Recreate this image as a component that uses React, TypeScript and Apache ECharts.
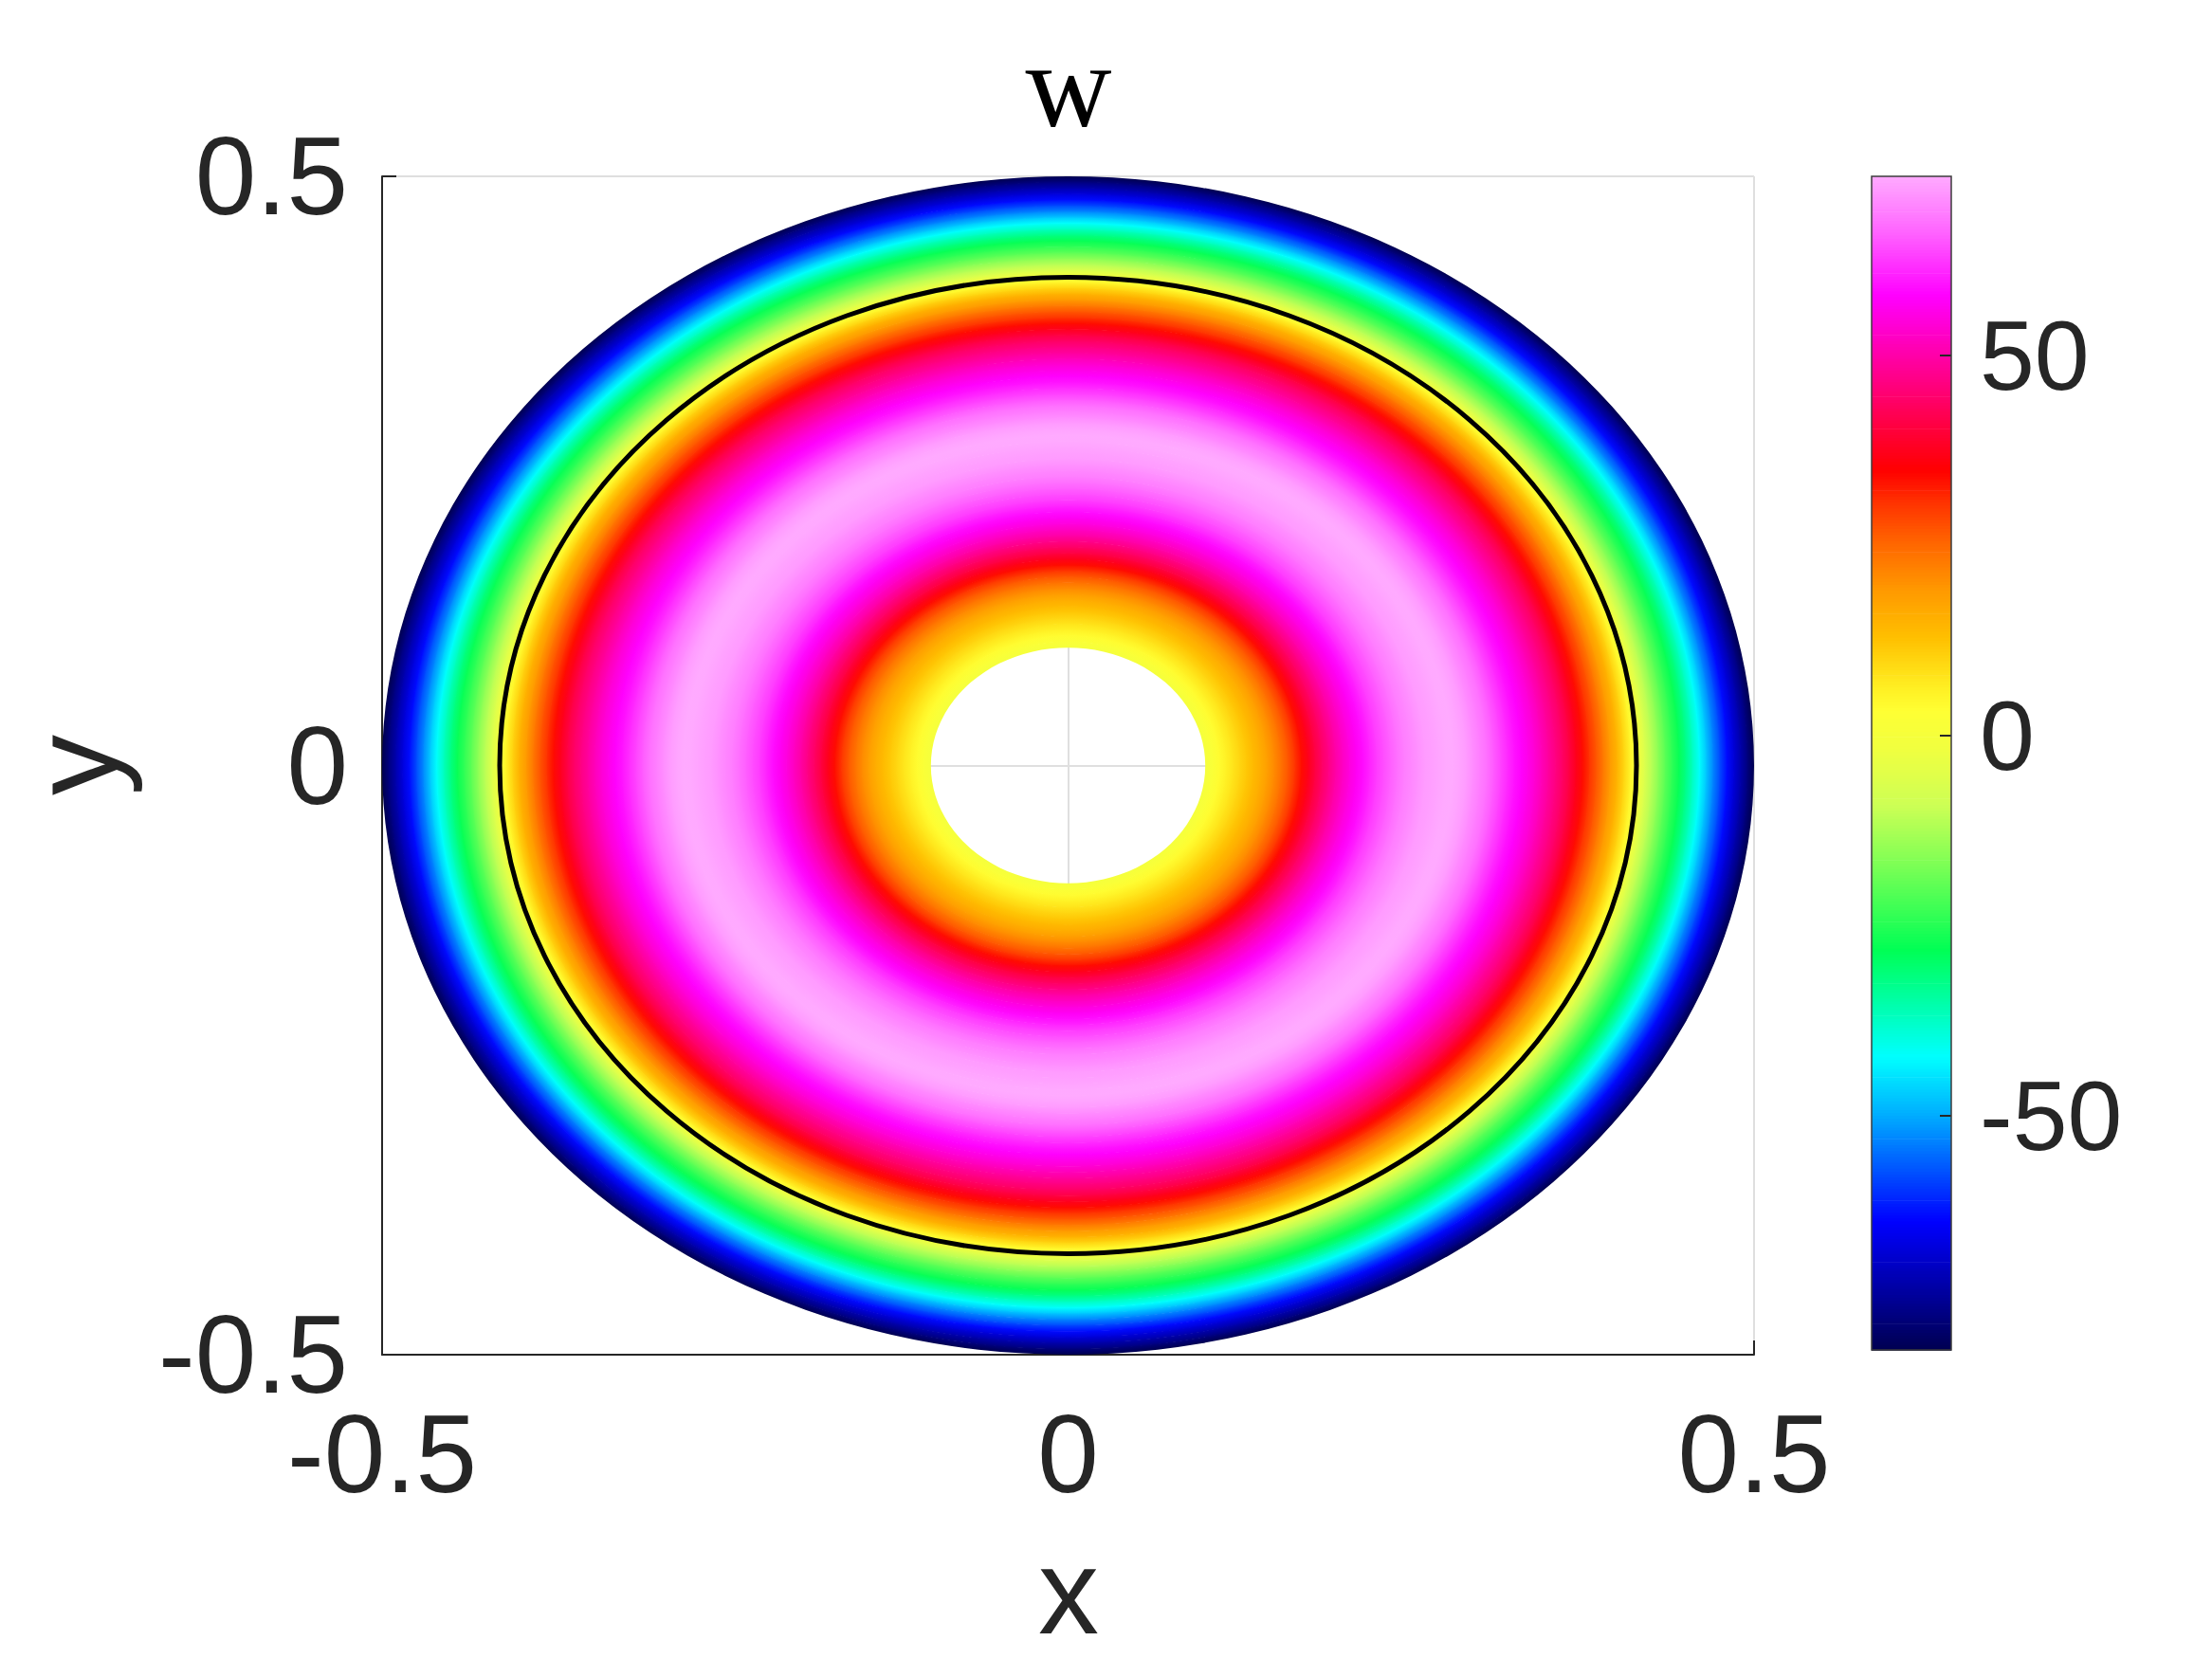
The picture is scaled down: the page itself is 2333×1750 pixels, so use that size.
import React, { useEffect, useRef } from 'react';
import * as echarts from 'echarts';

// Radial samples of the field w(r) on the annulus 0.1 <= r <= 0.5
const radii = [
  0.100, 0.105, 0.110, 0.115, 0.120, 0.125, 0.130, 0.135, 0.140, 0.145,
  0.150, 0.155, 0.160, 0.165, 0.170, 0.175, 0.180, 0.185, 0.190, 0.195,
  0.200, 0.205, 0.210, 0.215, 0.220, 0.225, 0.230, 0.235, 0.240, 0.245,
  0.250, 0.255, 0.260, 0.265, 0.270, 0.275, 0.280, 0.285, 0.290, 0.295,
  0.300, 0.305, 0.310, 0.315, 0.320, 0.325, 0.330, 0.335, 0.340, 0.345,
  0.350, 0.355, 0.360, 0.365, 0.370, 0.375, 0.380, 0.385, 0.390, 0.395,
  0.400, 0.405, 0.410, 0.415, 0.420, 0.425, 0.430, 0.435, 0.440, 0.445,
  0.450, 0.455, 0.460, 0.465, 0.470, 0.475, 0.480, 0.485, 0.490, 0.495,
  0.500,
];
const wValues = [
  0, 2, 4, 6, 8, 10, 12, 14, 16, 18.5,
  21, 24, 27, 30.5, 34, 37.5, 41, 44, 47, 50,
  52.5, 55, 57, 59, 61, 63, 64.5, 66, 67.5, 69,
  70, 71, 72, 72.5, 73, 73.5, 73.6, 73, 72, 70.5,
  69, 67.5, 65.5, 63.5, 61.5, 59.5, 58, 56, 54, 51.5,
  49, 46.5, 44, 41, 37.5, 34, 30.5, 27, 23, 19,
  15, 10, 5, -0.5, -6, -11, -15.5, -20, -24, -27.5,
  -32, -37, -42, -47.5, -53, -58, -63, -67.5, -72, -76.5,
  -80.8,
];
// zero contour radius
const contourRadius = [0.4143];

const axisTicks = [-0.5, 0, 0.5];
const colorbarTicks = [-50, 0, 50];
const titleText = 'w';
const xLabel = 'x';
const yLabel = 'y';

// colormap definition (fraction from min to max)
const cmapPositions = [0, 0.11, 0.199, 0.25, 0.341, 0.416, 0.464, 0.512, 0.546, 0.566, 0.607, 0.648, 0.688, 0.722, 0.75, 0.824, 0.899, 0.954, 1];
const cmapColors = ['#000050', '#0000ff', '#00aaff', '#00ffff', '#00ff55', '#80ff55', '#ccff55', '#f0ff40', '#ffff33', '#ffee22', '#ffc000', '#ff9900', '#ff6600', '#ff3300', '#ff0000', '#ff0080', '#ff00ff', '#ff66ff', '#ffaaff'];

function hexToRgb(h: string): number[] {
  const v = parseInt(h.slice(1), 16);
  return [(v >> 16) & 255, (v >> 8) & 255, v & 255];
}
function buildColormap(n: number): string[] {
  const out: string[] = [];
  for (let k = 0; k < n; k++) {
    const f = k / (n - 1);
    let j = 0;
    while (j < cmapPositions.length - 2 && f > cmapPositions[j + 1]) j++;
    const t = (f - cmapPositions[j]) / (cmapPositions[j + 1] - cmapPositions[j]);
    const a = hexToRgb(cmapColors[j]);
    const b = hexToRgb(cmapColors[j + 1]);
    const c = a.map((v, i) => Math.round(v + (b[i] - v) * Math.max(0, Math.min(1, t))));
    out.push(`rgb(${c[0]},${c[1]},${c[2]})`);
  }
  return out;
}

const MAIN = { left: 403, top: 186, width: 1447, height: 1243 };
const CBAR = { left: 1974, top: 186, width: 84, height: 1238 };

export default function App() {
  const ref = useRef<HTMLDivElement>(null);

  useEffect(() => {
    if (!ref.current) return;
    const chart = echarts.init(ref.current, null, { renderer: 'svg' });

    const wMin = Math.min(...wValues);
    const wMax = Math.max(...wValues);
    const n = radii.length;
    const bandData = radii.map((r, i) => [r, i < n - 1 ? radii[i + 1] : r, wValues[i]]);

    const K = 400;
    const step = (wMax - wMin) / K;
    const cbData: number[][] = [];
    for (let k = 0; k < K; k++) {
      const lo = wMin + k * step;
      cbData.push([lo, lo + step, lo + step / 2]);
    }

    const tickFont = 'Liberation Sans';
    const dark = '#262626';

    const option: any = {
      animation: false,
      backgroundColor: '#ffffff',
      grid: [
        { left: MAIN.left, top: MAIN.top, width: MAIN.width, height: MAIN.height, containLabel: false },
        { left: CBAR.left, top: CBAR.top, width: CBAR.width, height: CBAR.height, containLabel: false },
      ],
      xAxis: [
        {
          type: 'value', gridIndex: 0, min: -0.5, max: 0.5, interval: 0.5,
          axisLine: { show: true, onZero: false, lineStyle: { color: dark, width: 2 } },
          axisTick: { show: true, inside: true, length: 15, lineStyle: { color: dark, width: 2 } },
          axisLabel: { show: true, fontSize: 116, fontFamily: tickFont, color: dark, margin: 47,
            customValues: axisTicks },
          splitLine: { show: true, lineStyle: { color: '#dfdfdf', width: 2 } },
        },
        {
          type: 'value', gridIndex: 1, min: 0, max: 1, show: false,
          axisLine: { show: false, onZero: false },
        },
      ],
      yAxis: [
        {
          type: 'value', gridIndex: 0, min: -0.5, max: 0.5, interval: 0.5,
          axisLine: { show: true, onZero: false, lineStyle: { color: dark, width: 2 } },
          axisTick: { show: true, inside: true, length: 15, lineStyle: { color: dark, width: 2 } },
          axisLabel: { show: true, fontSize: 116, fontFamily: tickFont, color: dark, margin: 36,
            customValues: axisTicks },
          splitLine: { show: true, lineStyle: { color: '#dfdfdf', width: 2 } },
        },
        {
          type: 'value', gridIndex: 1, min: wMin, max: wMax, position: 'right', z: 10,
          axisLine: { show: false, onZero: false },
          axisTick: { show: true, inside: true, length: 12, customValues: colorbarTicks, lineStyle: { color: dark, width: 2 } },
          axisLabel: { show: true, customValues: colorbarTicks, fontSize: 104, fontFamily: tickFont, color: dark, margin: 30 },
          splitLine: { show: false },
        },
      ],
      visualMap: {
        type: 'continuous', show: false, min: wMin, max: wMax, dimension: 2, seriesIndex: [0, 2],
        inRange: { color: buildColormap(256) },
      },
      series: [
        {
          type: 'custom', name: 'w', xAxisIndex: 0, yAxisIndex: 0,
          data: bandData,
          renderItem: (params: any, api: any) => {
            const r0 = api.value(0) as number;
            const r1 = api.value(1) as number;
            if (!(r1 > r0)) return { type: 'group', children: [] };
            const c = api.coord([0, 0]);
            const px = api.coord([1, 0])[0] - c[0];
            const py = c[1] - api.coord([0, 1])[1];
            const isLast = params.dataIndexInside + 2 >= params.dataInsideLength;
            const R0 = r0 * px;
            const R1 = r1 * px + (isLast ? 0 : 0.8);
            const c0 = api.visual('color');
            const c1 = api.visual('color', params.dataIndexInside + 1);
            return {
              type: 'ring',
              x: c[0], y: c[1], scaleX: 1, scaleY: py / px,
              shape: { cx: 0, cy: 0, r: R1, r0: R0 },
              style: {
                fill: new echarts.graphic.RadialGradient(0.5, 0.5, 0.5, [
                  { offset: 0, color: c0 },
                  { offset: R0 / R1, color: c0 },
                  { offset: 1, color: c1 },
                ]),
              },
            };
          },
        },
        {
          type: 'custom', name: 'contour', xAxisIndex: 0, yAxisIndex: 0, z: 5,
          data: contourRadius.map((r) => [r, 0, 0]),
          renderItem: (params: any, api: any) => {
            const r = api.value(0) as number;
            const c = api.coord([0, 0]);
            const e = api.coord([r, r]);
            return {
              type: 'ellipse',
              shape: { cx: c[0], cy: c[1], rx: e[0] - c[0], ry: c[1] - e[1] },
              style: { fill: 'none', stroke: '#000000', lineWidth: 5 },
            };
          },
        },
        {
          type: 'custom', name: 'colorbar', xAxisIndex: 1, yAxisIndex: 1,
          data: cbData,
          renderItem: (params: any, api: any) => {
            const lo = api.value(0) as number;
            const hi = api.value(1) as number;
            const p0 = api.coord([0, lo]);
            const p1 = api.coord([1, hi]);
            return {
              type: 'rect',
              shape: { x: p0[0], y: p1[1], width: p1[0] - p0[0], height: p0[1] - p1[1] + 0.7 },
              style: { fill: api.visual('color') },
            };
          },
        },
      ],
      graphic: [
        {
          type: 'text', x: 1127, y: 90, z: 100,
          style: { text: titleText, fontSize: 126, fontFamily: 'Liberation Serif', fill: '#000000',
            textAlign: 'center', align: 'center', textVerticalAlign: 'middle', verticalAlign: 'middle' },
        },
        {
          type: 'text', x: 1127, y: 1678, z: 100,
          style: { text: xLabel, fontSize: 128, fontFamily: tickFont, fill: dark,
            textAlign: 'center', align: 'center', textVerticalAlign: 'middle', verticalAlign: 'middle' },
        },
        {
          type: 'text', x: 78, y: 807, rotation: Math.PI / 2, z: 100,
          style: { text: yLabel, fontSize: 128, fontFamily: tickFont, fill: dark,
            textAlign: 'center', align: 'center', textVerticalAlign: 'middle', verticalAlign: 'middle' },
        },
        {
          type: 'rect', z: 100,
          shape: { x: CBAR.left, y: CBAR.top, width: CBAR.width, height: CBAR.height },
          style: { fill: 'none', stroke: '#3c3c3c', lineWidth: 1.5 },
        },
      ],
    };

    chart.setOption(option);
    return () => chart.dispose();
  }, []);

  return (
    <div
      ref={ref}
      style={{ position: 'absolute', left: 0, top: 0, width: 2333, height: 1750, background: '#ffffff' }}
    />
  );
}
